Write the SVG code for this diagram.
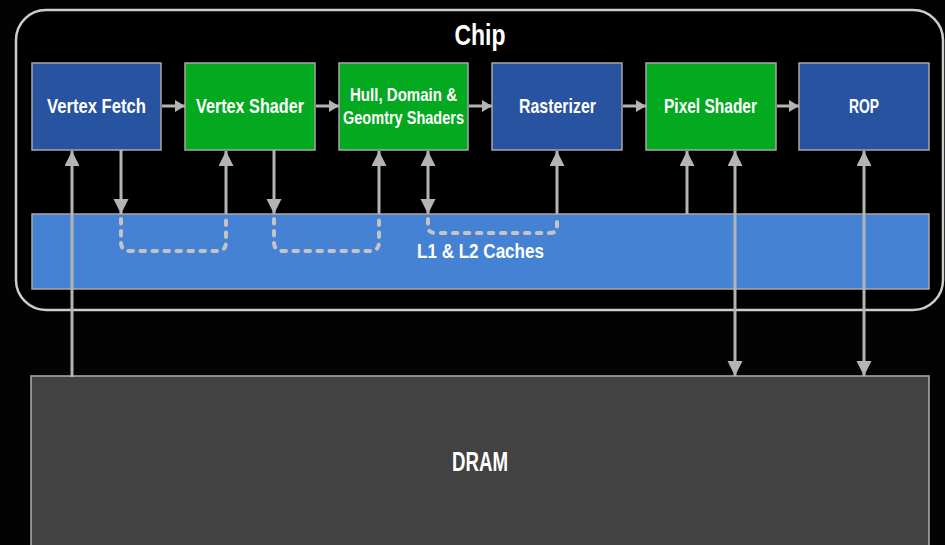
<svg xmlns="http://www.w3.org/2000/svg" width="945" height="545" viewBox="0 0 945 545">
  <style>
    .lbl { font-family: "Liberation Sans", Arial, sans-serif; font-weight: bold; fill: #ffffff; text-anchor: middle; }
    .box { stroke: #a8a8a8; stroke-width: 1.5; }
    .blue { fill: #2753a1; }
    .green { fill: #03a91f; }
    .wire { stroke: #b4b4b4; stroke-width: 3; fill: none; }
    .dash { stroke: #c4c4c4; stroke-width: 4; fill: none; stroke-dasharray: 4.5 7.5; stroke-linecap: round; }
  </style>
  <defs>
    <marker id="hv" markerUnits="userSpaceOnUse" markerWidth="14" markerHeight="16" refX="15" refY="7.5" orient="auto-start-reverse">
      <path d="M0,0 L15,7.5 L0,15 Z" fill="#b4b4b4"/>
    </marker>
    <marker id="hh" markerUnits="userSpaceOnUse" markerWidth="10" markerHeight="12" refX="10" refY="6" orient="auto">
      <path d="M0,0 L10,6 L0,12 Z" fill="#b4b4b4"/>
    </marker>
  </defs>

  <rect width="945" height="545" fill="#030303"/>

  <!-- chip outline -->
  <g id="chip">
    <rect x="16" y="10" width="927" height="300" rx="30" fill="#000" stroke="#cdcdcd" stroke-width="2.5"/>
    <text class="lbl" x="480" y="45" font-size="30" textLength="51" lengthAdjust="spacingAndGlyphs">Chip</text>
  </g>

  <!-- shared cache -->
  <g id="caches">
    <rect class="box" x="32" y="214" width="897" height="75" fill="#4682d3"/>
    <text class="lbl" x="480.5" y="258" font-size="21" textLength="127" lengthAdjust="spacingAndGlyphs">L1 &amp; L2 Caches</text>
  </g>

  <!-- off-chip memory -->
  <g id="dram">
    <rect x="31" y="376" width="898" height="180" fill="#424242" stroke="#b0b0b0" stroke-width="1.5"/>
    <text class="lbl" x="480" y="471" font-size="27" textLength="56" lengthAdjust="spacingAndGlyphs">DRAM</text>
  </g>

  <!-- pipeline stages -->
  <g id="vertex-fetch">
    <rect class="box blue" x="32" y="63" width="129" height="87"/>
    <text class="lbl" x="96.5" y="113" font-size="21" textLength="99" lengthAdjust="spacingAndGlyphs">Vertex Fetch</text>
  </g>
  <g id="vertex-shader">
    <rect class="box green" x="185" y="63" width="130" height="87"/>
    <text class="lbl" x="250" y="113" font-size="21" textLength="108" lengthAdjust="spacingAndGlyphs">Vertex Shader</text>
  </g>
  <g id="hull-domain-geometry">
    <rect class="box green" x="339" y="63" width="129" height="87"/>
    <text class="lbl" x="403.5" y="101" font-size="19" textLength="107" lengthAdjust="spacingAndGlyphs">Hull, Domain &amp;</text>
    <text class="lbl" x="403.5" y="124" font-size="19" textLength="121" lengthAdjust="spacingAndGlyphs">Geomtry Shaders</text>
  </g>
  <g id="rasterizer">
    <rect class="box blue" x="492" y="63" width="130" height="87"/>
    <text class="lbl" x="557.5" y="113" font-size="21" textLength="77" lengthAdjust="spacingAndGlyphs">Rasterizer</text>
  </g>
  <g id="pixel-shader">
    <rect class="box green" x="646" y="63" width="130" height="87"/>
    <text class="lbl" x="710.5" y="113" font-size="21" textLength="93" lengthAdjust="spacingAndGlyphs">Pixel Shader</text>
  </g>
  <g id="rop">
    <rect class="box blue" x="799" y="63" width="130" height="87"/>
    <text class="lbl" x="864" y="113" font-size="21" textLength="30" lengthAdjust="spacingAndGlyphs">ROP</text>
  </g>

  <!-- connectors -->
  <g id="connectors">
    <!-- stage to stage -->
    <line class="wire" x1="162" y1="106" x2="185" y2="106" marker-end="url(#hh)"/>
    <line class="wire" x1="316" y1="106" x2="339" y2="106" marker-end="url(#hh)"/>
    <line class="wire" x1="469" y1="106" x2="492" y2="106" marker-end="url(#hh)"/>
    <line class="wire" x1="623" y1="106" x2="646" y2="106" marker-end="url(#hh)"/>
    <line class="wire" x1="777" y1="106" x2="799" y2="106" marker-end="url(#hh)"/>

    <!-- DRAM to vertex fetch -->
    <line class="wire" x1="72" y1="377" x2="72" y2="151" marker-end="url(#hv)"/>
    <!-- stage / cache traffic -->
    <line class="wire" x1="121" y1="150" x2="121" y2="214" marker-end="url(#hv)"/>
    <line class="wire" x1="226" y1="214" x2="226" y2="151" marker-end="url(#hv)"/>
    <line class="wire" x1="274" y1="150" x2="274" y2="214" marker-end="url(#hv)"/>
    <line class="wire" x1="379" y1="214" x2="379" y2="151" marker-end="url(#hv)"/>
    <line class="wire" x1="428" y1="151" x2="428" y2="214" marker-start="url(#hv)" marker-end="url(#hv)"/>
    <line class="wire" x1="557" y1="214" x2="557" y2="151" marker-end="url(#hv)"/>
    <line class="wire" x1="687" y1="214" x2="687" y2="151" marker-end="url(#hv)"/>
    <!-- DRAM to pixel shader and ROP -->
    <line class="wire" x1="735" y1="151" x2="735" y2="376" marker-start="url(#hv)" marker-end="url(#hv)"/>
    <line class="wire" x1="864" y1="151" x2="864" y2="376" marker-start="url(#hv)" marker-end="url(#hv)"/>

    <!-- data kept in cache between stages -->
    <path class="dash" d="M121,219 V242 Q121,251 130,251 H217 Q226,251 226,242 V219"/>
    <path class="dash" d="M274,219 V242 Q274,251 283,251 H370 Q379,251 379,242 V219"/>
    <path class="dash" d="M428,219 V227 Q428,233 436,233 H550 Q557,233 557,227 V219"/>
  </g>
</svg>
